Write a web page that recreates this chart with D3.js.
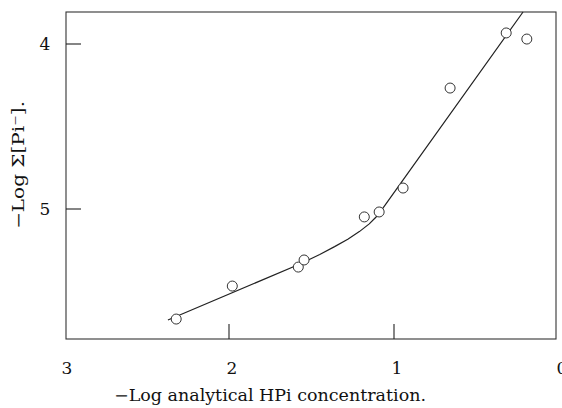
<!DOCTYPE html>
<html>
<head>
<meta charset="utf-8">
<script src="https://cdn.jsdelivr.net/npm/d3@7"></script>
<style>
  body { margin: 0; background: #fff; }
  svg { display: block; }
  text { font-family: "DejaVu Serif", "Liberation Serif", serif; fill: #111; }
</style>
</head>
<body>
<svg id="chart" width="562" height="408"></svg>
<script>
// measured points: -log analytical HPi vs -log sum[Pi-]
const logHPi = [2.32, 1.98, 1.58, 1.545, 1.18, 1.09, 0.945, 0.66, 0.32, 0.195];
const logPi  = [5.667, 5.467, 5.352, 5.309, 5.048, 5.018, 4.873, 4.267, 3.933, 3.97];

// curve through the points: straight low branch, a bend, straight steep branch
const curveX = [2.37, 1.57, 1.45, 1.36, 1.28, 1.21, 1.15, 1.11, 1.08, 0.218];
const curveY = [5.673, 5.333, 5.276, 5.228, 5.183, 5.137, 5.09, 5.05, 5.013, 3.806];

const xTicks = [3, 2, 1, 0];
const yTicks = [4, 5];

const svg = d3.select("#chart");

let x = d3.scaleLinear().domain([3, 0]).range([64, 559]);
let y = d3.scaleLinear().domain([4, 5]).range([44, 209]);

const frameL = 66, frameR = 556, frameT = 12, frameB = 339;

// frame
svg.append("rect")
  .attr("x", frameL).attr("y", frameT)
  .attr("width", frameR - frameL).attr("height", frameB - frameT)
  .attr("fill", "none")
  .attr("stroke", "#333")
  .attr("stroke-width", 1.1);

// inward ticks
svg.append("g")
  .selectAll("line")
  .data(xTicks.filter(d => d > 0 && d < 3))
  .enter()
  .append("line")
  .attr("x1", d => x(d)).attr("x2", d => x(d))
  .attr("y1", frameB).attr("y2", frameB - 15)
  .attr("stroke", "#222").attr("stroke-width", 1.1);

svg.append("g")
  .selectAll("line")
  .data(yTicks)
  .enter()
  .append("line")
  .attr("x1", frameL).attr("x2", frameL + 15)
  .attr("y1", d => y(d)).attr("y2", d => y(d))
  .attr("stroke", "#222").attr("stroke-width", 1.1);

// tick labels
svg.append("g")
  .selectAll("text")
  .data(xTicks)
  .enter()
  .append("text")
  .attr("x", d => x(d) + 3)
  .attr("y", 374)
  .attr("text-anchor", "middle")
  .attr("font-size", 17)
  .text(d => d);

svg.append("g")
  .selectAll("text")
  .data(yTicks)
  .enter()
  .append("text")
  .attr("x", 45)
  .attr("y", d => y(d) + 6)
  .attr("text-anchor", "middle")
  .attr("font-size", 17)
  .text(d => d);

// axis titles
svg.append("text")
  .attr("x", 270).attr("y", 401)
  .attr("text-anchor", "middle")
  .attr("font-size", 16)
  .attr("textLength", 312)
  .attr("lengthAdjust", "spacingAndGlyphs")
  .text("\u2212Log analytical HPi concentration.");

svg.append("text")
  .attr("transform", "translate(24,165) rotate(-90)")
  .attr("text-anchor", "middle")
  .attr("font-size", 16)
  .attr("textLength", 128)
  .attr("lengthAdjust", "spacingAndGlyphs")
  .text("\u2212Log \u03a3[Pi\u207b].");

// fitted curve
const line = d3.line()
  .x(d => x(d[0]))
  .y(d => y(d[1]));

svg.append("path")
  .datum(d3.zip(curveX, curveY))
  .attr("d", line)
  .attr("fill", "none")
  .attr("stroke", "#222")
  .attr("stroke-width", 1.2)
  .attr("stroke-linejoin", "round");

// open circles
svg.append("g")
  .selectAll("circle")
  .data(d3.zip(logHPi, logPi))
  .enter()
  .append("circle")
  .attr("cx", d => x(d[0]))
  .attr("cy", d => y(d[1]))
  .attr("r", 5)
  .attr("fill", "#fff")
  .attr("stroke", "#333")
  .attr("stroke-width", 1);
</script>
</body>
</html>
